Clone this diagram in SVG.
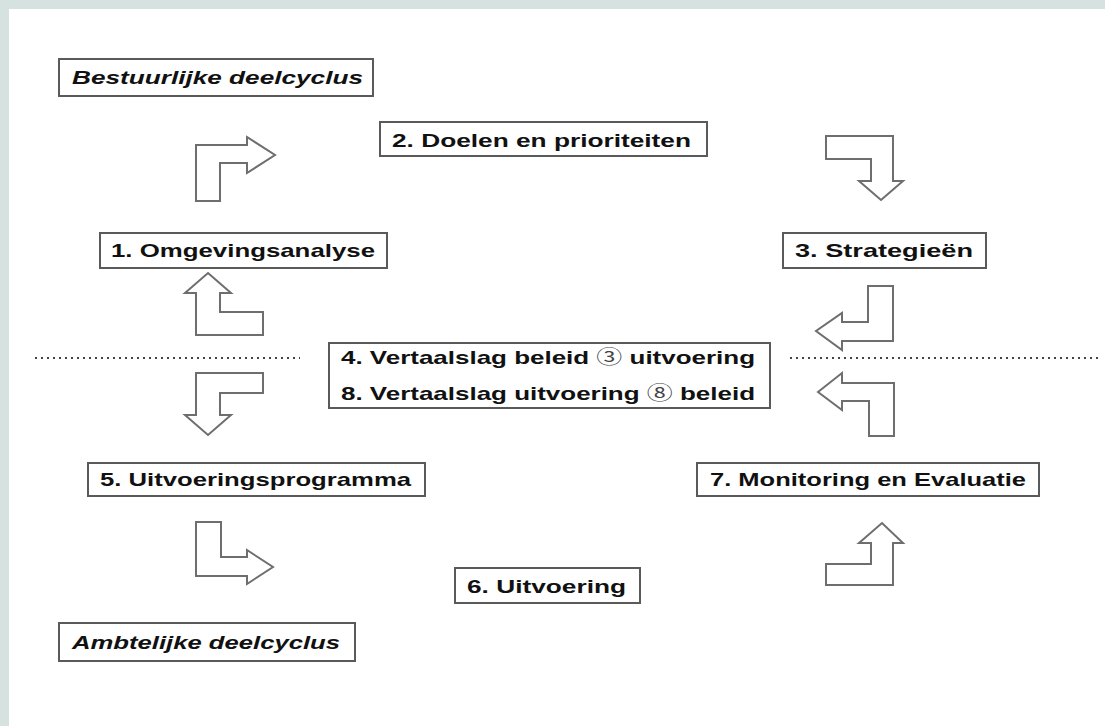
<svg xmlns="http://www.w3.org/2000/svg" width="1105" height="726" viewBox="0 0 1105 726">
<style>
.box{fill:#fff;stroke:#5a5a5a;stroke-width:2}
.t{font-family:"Liberation Sans",Arial,sans-serif;font-weight:bold;font-size:19px;fill:#111}
.ti{font-family:"Liberation Sans",Arial,sans-serif;font-weight:bold;font-style:italic;font-size:19px;fill:#111}
.c{font-family:"Noto Sans CJK SC","Noto Sans",sans-serif;font-weight:normal;fill:#444}
.arr{fill:#fff;stroke:#6e6e6e;stroke-width:2;stroke-linejoin:miter}
.dot{stroke:#444;stroke-width:2;stroke-dasharray:2,4}
</style>
<rect x="0" y="0" width="1105" height="726" fill="#d6e2e0"/>
<rect x="9" y="9" width="1096" height="717" fill="#fff"/>
<g id="bestuurlijke"><rect class="box" x="59" y="59" width="314" height="37"/><text class="ti" x="72" y="84" textLength="291" lengthAdjust="spacingAndGlyphs">Bestuurlijke deelcyclus</text></g>
<g id="n2"><rect class="box" x="380" y="122" width="327" height="34"/><text class="t" x="392" y="147" textLength="299" lengthAdjust="spacingAndGlyphs">2. Doelen en prioriteiten</text></g>
<g id="n1"><rect class="box" x="100" y="233" width="287" height="35"/><text class="t" x="111" y="257" textLength="264" lengthAdjust="spacingAndGlyphs">1. Omgevingsanalyse</text></g>
<g id="n3"><rect class="box" x="783" y="233" width="203" height="35"/><text class="t" x="795" y="257" textLength="178" lengthAdjust="spacingAndGlyphs">3. Strategieën</text></g>
<g id="n48"><rect class="box" x="329" y="343" width="441" height="65"/><text class="t" x="341" y="364" textLength="414" lengthAdjust="spacingAndGlyphs">4. Vertaalslag beleid <tspan class="c">③</tspan> uitvoering</text><text class="t" x="341" y="400" textLength="414" lengthAdjust="spacingAndGlyphs">8. Vertaalslag uitvoering <tspan class="c">⑧</tspan> beleid</text></g>
<g id="n5"><rect class="box" x="88" y="463" width="337" height="33"/><text class="t" x="100" y="486" textLength="311" lengthAdjust="spacingAndGlyphs">5. Uitvoeringsprogramma</text></g>
<g id="n7"><rect class="box" x="697" y="463" width="342" height="33"/><text class="t" x="710" y="486" textLength="316" lengthAdjust="spacingAndGlyphs">7. Monitoring en Evaluatie</text></g>
<g id="n6"><rect class="box" x="455" y="568" width="185" height="35"/><text class="t" x="467" y="593" textLength="159" lengthAdjust="spacingAndGlyphs">6. Uitvoering</text></g>
<g id="ambtelijke"><rect class="box" x="59" y="623" width="296" height="38"/><text class="ti" x="72" y="649" textLength="268" lengthAdjust="spacingAndGlyphs">Ambtelijke deelcyclus</text></g>
<g id="connectors">
<line class="dot" x1="35" y1="358" x2="300" y2="358"/>
<line class="dot" x1="790" y1="358" x2="1100" y2="358"/>
<polygon class="arr" points="196,201 196,145 247,145 247,137 275,155 247,173 247,163 220,163 220,201"/>
<polygon class="arr" points="826,136 893,136 893,181 903,181 881,200 859,181 871,181 871,159 826,159"/>
<polygon class="arr" points="208,273 231,293 220,293 220,312 263,312 263,335 196,335 196,293 185,293"/>
<polygon class="arr" points="868,286 893,286 893,341 842,341 842,350 816,331 842,313 842,322 868,322"/>
<polygon class="arr" points="196,373 263,373 263,393 220,393 220,415 231,415 208,435 185,415 196,415"/>
<polygon class="arr" points="818,392 842,373 842,383 894,383 894,436 869,436 869,401 842,401 842,410"/>
<polygon class="arr" points="196,522 221,522 221,557 247,557 247,550 273,567 247,584 247,576 196,576"/>
<polygon class="arr" points="826,564 871,564 871,543 859,543 882,523 903,543 893,543 893,585 826,585"/>
</g>
</svg>
